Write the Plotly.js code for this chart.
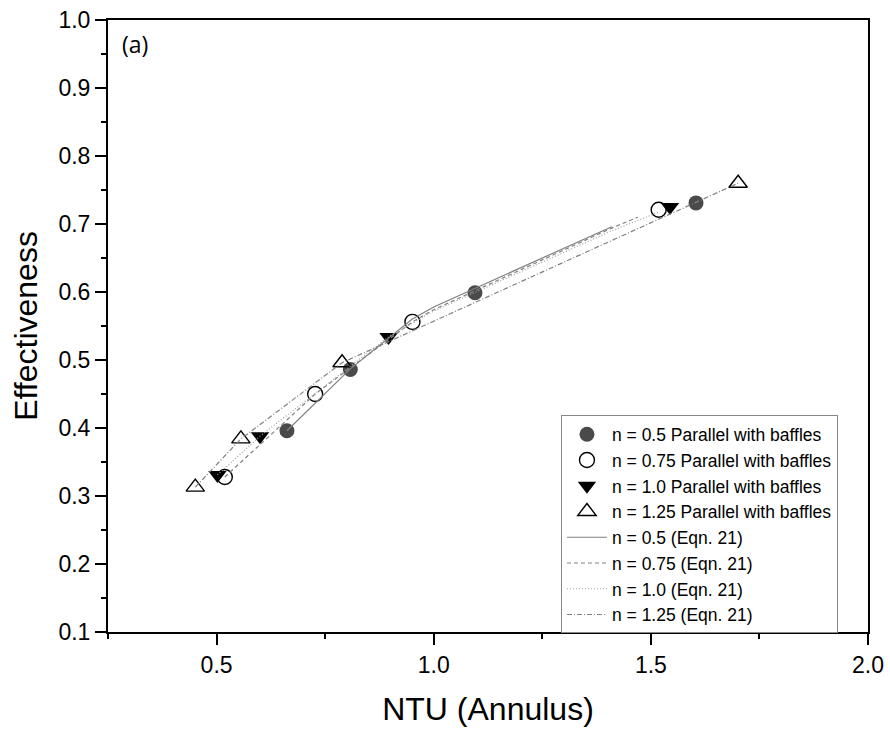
<!DOCTYPE html>
<html>
<head>
<meta charset="utf-8">
<script src="https://cdn.plot.ly/plotly-3.0.1.min.js"></script>
<style>html,body{margin:0;padding:0;background:#fff;}#chart{width:890px;height:733px;}</style>
</head>
<body>
<div id="chart"></div>
<script>
// Experimental data: NTU (Annulus) vs Effectiveness
const ntu_n050 = [0.662, 0.808, 1.095, 1.604];
const eff_n050 = [0.396, 0.486, 0.599, 0.731];
const ntu_n075 = [0.519, 0.727, 0.951, 1.518];
const eff_n075 = [0.328, 0.450, 0.556, 0.721];
const ntu_n100 = [0.502, 0.600, 0.896, 1.544];
const eff_n100 = [0.331, 0.388, 0.534, 0.725];
const ntu_n125 = [0.451, 0.556, 0.789, 1.701];
const eff_n125 = [0.313, 0.384, 0.496, 0.760];

// Eqn. 21 curves
const eq_ntu_n050 = [0.662, 0.808, 0.95, 1.0, 1.41];
const eq_eff_n050 = [0.396, 0.487, 0.560, 0.578, 0.696];
const eq_ntu_n075 = [0.519, 0.727, 0.951, 1.0, 1.41, 1.47];
const eq_eff_n075 = [0.328, 0.450, 0.556, 0.574, 0.694, 0.710];
const eq_ntu_n100 = [0.502, 0.600, 0.896, 1.0, 1.41, 1.52];
const eq_eff_n100 = [0.331, 0.388, 0.534, 0.572, 0.690, 0.718];
const eq_ntu_n125 = [0.451, 0.556, 0.789, 1.701];
const eq_eff_n125 = [0.313, 0.384, 0.496, 0.760];

const xTicks = [0.5, 1.0, 1.5, 2.0];
const xTickText = ['0.5', '1.0', '1.5', '2.0'];
const yTicks = [0.1, 0.2, 0.3, 0.4, 0.5, 0.6, 0.7, 0.8, 0.9, 1.0];
const yTickText = ['0.1', '0.2', '0.3', '0.4', '0.5', '0.6', '0.7', '0.8', '0.9', '1.0'];

const FONT = 'Liberation Sans, Arial, sans-serif';

const traces = [
  {x: ntu_n050, y: eff_n050, mode: 'markers', name: 'n = 0.5 Parallel with baffles',
   marker: {symbol: 'circle', size: 15, color: '#4a4a4a', line: {width: 0}}},
  {x: ntu_n075, y: eff_n075, mode: 'markers', name: 'n = 0.75 Parallel with baffles',
   marker: {symbol: 'circle-open', size: 15, color: '#000', line: {width: 1.4, color: '#000'}}},
  {x: ntu_n100, y: eff_n100, mode: 'markers', name: 'n = 1.0 Parallel with baffles',
   marker: {symbol: 'triangle-down', size: 16, color: '#000', line: {width: 0}}},
  {x: ntu_n125, y: eff_n125, mode: 'markers', name: 'n = 1.25 Parallel with baffles',
   marker: {symbol: 'triangle-up-open', size: 16, color: '#000', line: {width: 1.4, color: '#000'}}},
  {x: eq_ntu_n050, y: eq_eff_n050, mode: 'lines', name: 'n = 0.5 (Eqn. 21)',
   line: {color: '#808080', width: 1.2, dash: 'solid'}},
  {x: eq_ntu_n075, y: eq_eff_n075, mode: 'lines', name: 'n = 0.75 (Eqn. 21)',
   line: {color: '#808080', width: 1.2, dash: '4px,3px'}},
  {x: eq_ntu_n100, y: eq_eff_n100, mode: 'lines', name: 'n = 1.0 (Eqn. 21)',
   line: {color: '#a0a0a0', width: 1.2, dash: '1px,2px'}},
  {x: eq_ntu_n125, y: eq_eff_n125, mode: 'lines', name: 'n = 1.25 (Eqn. 21)',
   line: {color: '#808080', width: 1.2, dash: '5px,2px,1px,2px'}}
];

const axisCommon = {
  showgrid: false, zeroline: false, showline: true, linecolor: '#000', linewidth: 2,
  mirror: true, ticks: 'outside', ticklen: 11, tickwidth: 2, tickcolor: '#000',
  tickfont: {family: FONT, size: 23, color: '#000'}
};

const layout = {
  width: 890, height: 733,
  margin: {l: 108, r: 22, t: 20, b: 101},
  paper_bgcolor: '#fff', plot_bgcolor: '#fff',
  showlegend: true,
  xaxis: Object.assign({}, axisCommon, {
    range: [0.25, 2.0], tickmode: 'array', tickvals: xTicks, ticktext: xTickText,
    minor: {dtick: 0.25, tick0: 0, ticks: 'outside', ticklen: 5, tickwidth: 2, tickcolor: '#000'},
    title: {text: 'NTU (Annulus)', font: {family: FONT, size: 32, color: '#000'}, standoff: 21}
  }),
  yaxis: Object.assign({}, axisCommon, {
    range: [0.1, 1.0], tickmode: 'array', tickvals: yTicks, ticktext: yTickText,
    minor: {dtick: 0.05, tick0: 0, ticks: 'outside', ticklen: 5, tickwidth: 2, tickcolor: '#000'},
    title: {text: 'Effectiveness', font: {family: FONT, size: 32, color: '#000'}, standoff: 11}
  }),
  legend: {
    x: 0.596, y: 0.354, xanchor: 'left', yanchor: 'top',
    bgcolor: '#fff', bordercolor: '#888', borderwidth: 1,
    font: {family: FONT, size: 17.5, color: '#000'},
    tracegroupgap: 0, itemwidth: 40
  },
  annotations: [{
    text: '(a)', xref: 'paper', yref: 'paper', x: 0.016, y: 0.961, xanchor: 'left', yanchor: 'middle',
    showarrow: false, font: {family: 'Open Sans, sans-serif', size: 23, color: '#000'}
  }]
};

Plotly.newPlot('chart', traces, layout, {displayModeBar: false, staticPlot: true});
</script>
</body>
</html>
